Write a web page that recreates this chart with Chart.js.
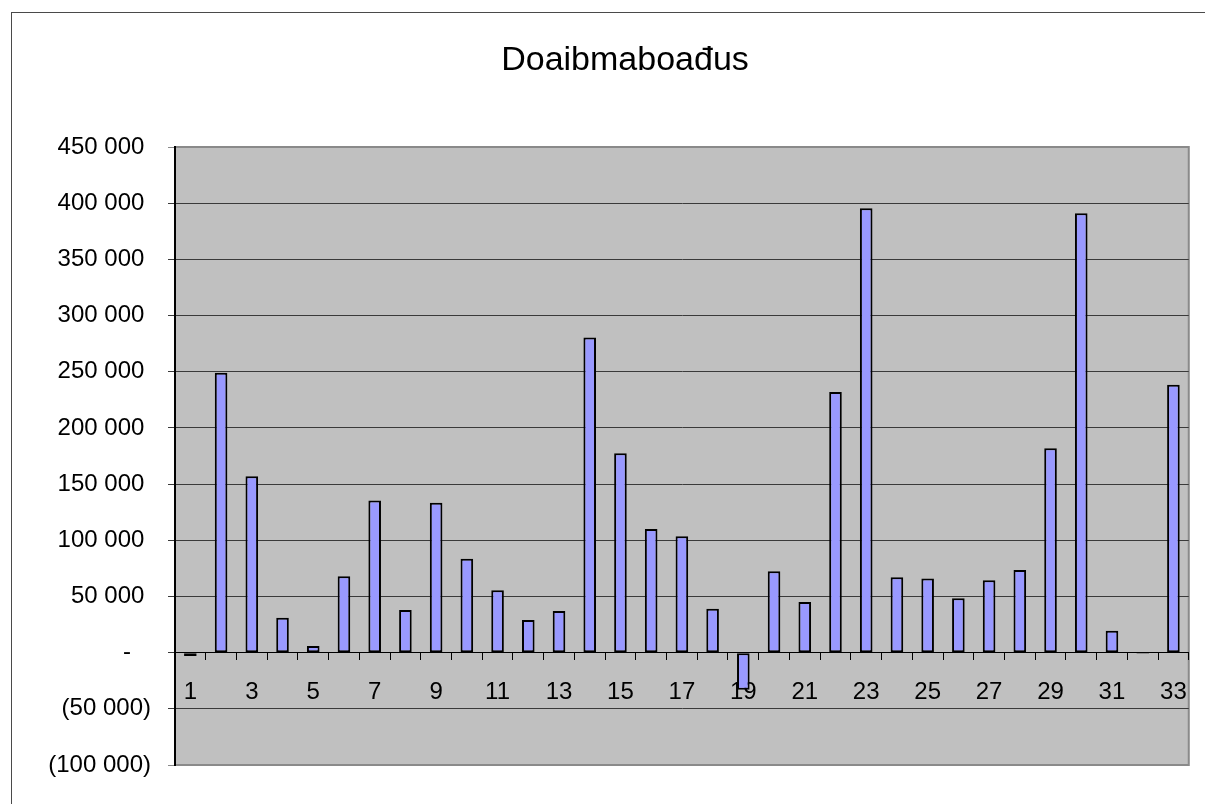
<!DOCTYPE html>
<html>
<head>
<meta charset="utf-8">
<script src="https://cdn.jsdelivr.net/npm/chart.js@4"></script>
<style>
  html, body { margin: 0; padding: 0; background: #fff; }
  #wrap { width: 1205px; height: 804px; }
</style>
</head>
<body>
<div id="wrap"><canvas id="bars"></canvas></div>
<script>
// category labels 1..33
var categories = ['1','2','3','4','5','6','7','8','9','10','11','12','13','14','15','16','17',
  '18','19','20','21','22','23','24','25','26','27','28','29','30','31','32','33'];

// values
var values = [-3000, 249000, 157000, 31000, 6000, 68000, 135500, 38000, 133500, 83500, 55500,
  29000, 37000, 280500, 177500, 110000, 103500, 39000, -33000, 72500, 45000, 232000,
  395500, 67000, 66000, 48500, 64500, 73500, 182000, 391000, 19500, -1000, 238500];

var yMin = -100000;
var yMax = 450000;
var yStep = 50000;

var chartTitle = 'Doaibmaboađus';

function fmt(v) {
  if (v === 0) return '-   ';
  var s = Math.abs(v).toString().replace(/\B(?=(\d{3})+(?!\d))/g, ' ');
  return v < 0 ? '(' + s + ')' : s + ' ';
}

// grey plot area, outer frame, title
var excelLook = {
  id: 'excelLook',
  beforeDraw: function(chart) {
    var c = chart.ctx, a = chart.chartArea;
    c.save();
    c.strokeStyle = '#4a4a4a';
    c.lineWidth = 1;
    c.strokeRect(11.5, 12.5, 1300, 900);
    c.fillStyle = '#c0c0c0';
    c.fillRect(a.left, a.top, a.right - a.left, a.bottom - a.top);
    c.strokeStyle = '#8a8a8a';
    c.lineWidth = 2;
    c.strokeRect(a.left, a.top, a.right - a.left, a.bottom - a.top);
    c.fillStyle = '#000';
    c.font = '34px "Liberation Sans"';
    c.textAlign = 'center';
    c.textBaseline = 'middle';
    c.fillText(chartTitle, 625, 61);
    c.restore();
  }
};

var ctx = document.getElementById('bars').getContext('2d');
var myChart = new Chart(ctx, {
  type: 'bar',
  data: {
    labels: categories,
    datasets: [{
      data: values,
      backgroundColor: '#9999ff',
      borderColor: '#000000',
      borderWidth: 2,
      borderSkipped: false,
      barPercentage: 0.41,
      categoryPercentage: 1
    }]
  },
  options: {
    responsive: true,
    maintainAspectRatio: false,
    animation: false,
    layout: { padding: { left: 0, right: 16, top: 147, bottom: 39 } },
    plugins: {
      legend: { display: false },
      tooltip: { enabled: false },
      title: { display: false }
    },
    scales: {
      x: {
        position: { y: 0 },
        afterFit: function(scale) { scale.height = 0; },
        grid: { drawOnChartArea: false, drawTicks: true, tickLength: 7, color: '#000', offset: true },
        border: { display: true, color: '#000', width: 1 },
        ticks: {
          autoSkip: false,
          maxRotation: 0,
          padding: 18,
          color: '#000',
          font: { family: 'Liberation Sans', size: 24 },
          callback: function(val, i) { return i % 2 === 0 ? categories[i] : ''; }
        }
      },
      y: {
        min: yMin,
        max: yMax,
        afterFit: function(scale) { scale.width = 175; },
        grid: {
          tickLength: 7,
          color: function(c) {
            if (c.tick && (c.tick.value === yMax || c.tick.value === yMin)) return '#8a8a8a';
            return '#3a3a3a';
          },
          lineWidth: 1
        },
        border: { display: true, color: '#000', width: 2 },
        ticks: {
          stepSize: yStep,
          padding: 17,
          color: '#000',
          font: { family: 'Liberation Sans', size: 24 },
          callback: function(v) { return fmt(v); }
        }
      }
    }
  },
  plugins: [excelLook]
});
</script>
</body>
</html>
